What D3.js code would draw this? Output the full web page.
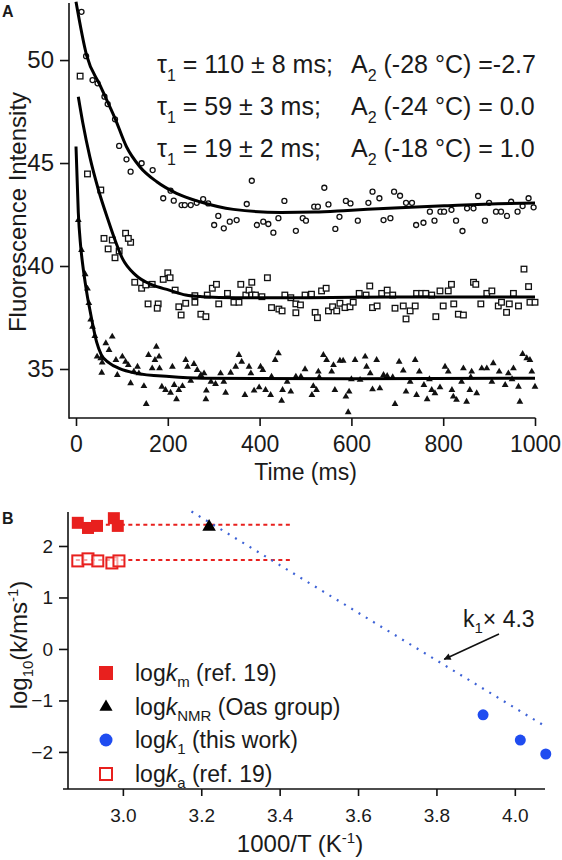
<!DOCTYPE html>
<html><head><meta charset="utf-8">
<script src="https://cdn.jsdelivr.net/npm/d3@7/dist/d3.min.js"></script>
<style>body{margin:0;background:#fff}svg{display:block}</style>
</head><body>
<svg id="c" width="562" height="860"></svg>
<script>
// ---------------- DATA ----------------
// Panel A: time (ms), fluorescence intensity
const timeTicks = [0, 200, 400, 600, 800, 1000];
const intensityTicks = [35, 40, 45, 50];

const circlePts = [[12,52.34],[22,50.19],[36,49.03],[47,48.87],[62,48.22],[69,47.86],[85,47.12],[94,45.83],[110,45.18],[119,44.58],[143,44.99],[167,44.66],[190,43.29],[206,43.66],[213,43.17],[230,42.96],[237,42.96],[250,42.96],[263,43.07],[277,43.25],[288,43.04],[301,41.99],[310,42.43],[322,41.83],[335,42.15],[350,42.23],[372,43.01],[383,44.14],[394,41.99],[408,42.15],[419,42.04],[430,41.62],[441,42.32],[454,43.16],[479,41.71],[494,42.32],[501,42.2],[519,42.88],[527,42.88],[541,43.8],[550,42.99],[565,41.8],[574,42.39],[588,43.16],[598,43.04],[614,42.2],[637,43.07],[646,43.61],[661,43.29],[670,42.23],[685,42.32],[693,43.61],[706,43.41],[719,43.07],[732,43.07],[741,41.99],[757,42.1],[771,42.64],[781,42.2],[794,42.64],[802,42.64],[818,42.73],[828,42.2],[842,41.7],[852,42.8],[866,42.8],[876,43.4],[891,42.2],[900,43.07],[915,42.64],[926,42.64],[939,42.43],[948,43.12],[962,42.64],[973,42.91],[986,43.29],[997,42.85]];
const circleFit = [[0,52.83],[23,50.24],[52,48.79],[85,47.17],[110,45.79],[139,44.82],[176,44.09],[219,43.53],[270,43.12],[343,42.75],[447,42.6],[520,42.62],[592,42.7],[693,42.82],[810,42.93],[919,43.02],[1000,43.06]];

const squarePts = [[9,49.22],[25,44.47],[54,43.69],[61,41.34],[79,41.26],[70,40.83],[94,40.73],[85,40.4],[108,41.59],[119,41.15],[114,41.34],[128,39.21],[143,38.92],[152,39.08],[166,39.11],[157,38.16],[179,38.16],[177,37.95],[190,39.35],[200,39.67],[205,39.43],[216,38.83],[224,38.02],[229,37.62],[239,38.19],[259,38.56],[259,38.24],[272,37.66],[283,37.54],[286,38.59],[297,38.92],[306,39.11],[311,38.16],[330,38.67],[344,38.24],[355,38.24],[359,39.11],[370,38.59],[377,38.83],[383,39.21],[383,38.59],[391,38.59],[405,38.51],[417,39.43],[426,37.98],[442,37.91],[449,37.82],[455,38.59],[468,38.46],[479,37.73],[479,38.16],[489,38.11],[499,38.59],[513,38.63],[521,37.75],[526,37.49],[535,38.79],[545,38.92],[550,37.82],[559,38.02],[568,37.82],[575,38.19],[586,37.98],[597,38.02],[604,38.24],[617,38.67],[632,38.59],[640,39.03],[646,37.98],[656,38.06],[666,38.67],[678,38.83],[690,38.59],[695,37.95],[713,38.06],[719,37.43],[728,37.82],[739,38.06],[742,38.67],[753,38.67],[762,38.67],[775,38.59],[784,37.54],[793,38.79],[800,38.06],[811,38.79],[818,39.11],[823,38.16],[833,37.66],[844,37.62],[866,39.21],[871,39.11],[882,38.16],[895,38.67],[906,38.79],[920,38.06],[927,38.24],[938,37.75],[944,38.16],[953,38.67],[964,38.06],[976,39.85],[986,39.0],[989,38.24],[1000,38.24]];
const squareFit = [[5,48.22],[15,46.93],[30,45.31],[49,43.69],[70,42.23],[85,41.26],[101,40.37],[130,39.56],[166,39.08],[203,38.83],[239,38.59],[275,38.51],[348,38.46],[508,38.46],[700,38.5],[1000,38.5]];

const trianglePts = [[5,42.23],[12,40.78],[20,39.6],[25,38.9],[28,38.2],[32,37.4],[36,37.05],[41,36.6],[46,35.6],[54,35.52],[57,35.31],[56,34.82],[65,36.25],[72,35.92],[79,36.57],[87,35.44],[90,34.71],[101,35.6],[108,35.35],[114,35.19],[119,34.31],[126,34.87],[134,35.11],[137,34.79],[148,34.17],[153,33.3],[158,35.68],[166,35.03],[172,35.44],[175,36.08],[181,35.6],[182,35.03],[187,34.14],[195,33.98],[206,33.85],[210,35.11],[214,34.22],[219,33.53],[224,33.98],[232,34.17],[239,35.44],[243,35.11],[250,34.43],[257,35.24],[264,34.95],[272,34.71],[279,34.79],[283,33.53],[284,33.95],[294,34.38],[304,34.27],[315,34.79],[322,34.38],[326,33.85],[337,34.82],[348,35.11],[355,35.68],[361,35.35],[368,33.74],[377,35.11],[381,34.79],[388,33.95],[399,34.11],[402,35.11],[407,34.95],[413,33.98],[424,33.74],[426,34.63],[434,35.44],[441,35.76],[448,33.46],[450,33.98],[460,34.38],[468,33.9],[479,34.63],[490,34.63],[499,34.99],[514,33.74],[517,34.17],[524,33.98],[528,34.87],[539,35.68],[546,35.44],[557,34.87],[561,35.19],[564,33.98],[575,35.4],[582,35.4],[588,33.66],[595,33.9],[593,32.9],[608,35.44],[619,34.47],[630,35.6],[633,35.11],[641,34.79],[646,34.01],[655,35.44],[662,34.06],[670,34.71],[678,34.66],[695,33.3],[704,35.35],[713,34.92],[719,33.9],[728,34.38],[739,35.44],[742,33.74],[748,34.87],[758,34.22],[765,33.53],[775,33.98],[782,33.82],[793,34.11],[804,35.11],[811,34.87],[819,33.98],[822,33.66],[829,33.5],[840,34.38],[844,35.03],[851,33.41],[858,33.98],[862,34.87],[873,33.82],[884,35.03],[895,35.03],[906,34.38],[909,35.28],[922,34.87],[935,34.22],[942,34.79],[953,35.03],[964,34.14],[967,33.41],[973,35.73],[982,35.52],[989,35.44],[993,34.87],[1000,34.14],[530,34.6],[600,34.5],[690,34.6],[770,34.5],[860,34.6],[950,34.5]];
const triangleFit = [[0,45.8],[5,42.6],[10,41.0],[15,40.0],[20,39.2],[25,38.5],[30,37.9],[37,37.1],[45,36.3],[55,35.7],[72,35.3],[94,35.03],[130,34.8],[203,34.63],[275,34.55],[600,34.52],[1000,34.55]];

const fitLabels = [
  {tau: "110 ± 8 ms;", temp: "-28 °C", a2: "=-2.7"},
  {tau: "59 ± 3 ms;",  temp: "-24 °C", a2: "= 0.0"},
  {tau: "19 ± 2 ms;",  temp: "-18 °C", a2: "= 1.0"}
];

// Panel B: 1000/T (1/K), log10(k / ms^-1)
const invTTicks = [3.0, 3.2, 3.4, 3.6, 3.8, 4.0];
const logkTicks = [-2, -1, 0, 1, 2];
const logKm = [[2.885,2.45],[2.911,2.35],[2.934,2.39],[2.977,2.54],[2.987,2.39]];
const logKa = [[2.885,1.71],[2.911,1.75],[2.936,1.71],[2.972,1.67],[2.990,1.71]];
const logKnmr = [[3.22,2.37]];
const logK1 = [[3.919,-1.28],[4.014,-1.77],[4.079,-2.04]];
const kmLevelLine = [[2.88,2.41],[3.43,2.41]];
const kaLevelLine = [[2.88,1.73],[3.43,1.73]];
const k1x43Line = [[3.175,2.67],[4.077,-1.50]];
const arrowTip = [3.82,-0.2];

// ---------------- DRAW ----------------
const FONT = '"Liberation Sans", Arial, Helvetica, sans-serif';
const TXT = "#1a1a1a";
const svg = d3.select("#c").attr("font-family", FONT);

function styleAxis(g, fs) {
  g.select(".domain").remove();
  g.selectAll(".tick line").attr("stroke", "#111").attr("stroke-width", 1.6);
  g.selectAll(".tick text").attr("font-size", fs).attr("fill", TXT).attr("font-family", FONT);
}

// ===== Panel A =====
const xA = d3.scaleLinear().domain([0, 1000]).range([76, 535]);
const yA = d3.scaleLinear().domain([32.62, 52.77]).range([418, 3]);

const axAx = svg.append("g").attr("transform", "translate(0,418)")
  .call(d3.axisBottom(xA).tickValues(timeTicks).tickSize(8).tickPadding(10).tickFormat(d3.format("d")));
styleAxis(axAx, 23);
const axAy = svg.append("g").attr("transform", "translate(69,0)")
  .call(d3.axisLeft(yA).tickValues(intensityTicks).tickSize(9).tickPadding(6));
styleAxis(axAy, 24);
svg.append("line").attr("x1", 69).attr("x2", 535.5).attr("y1", 418).attr("y2", 418).attr("stroke", "#111").attr("stroke-width", 1.6);
svg.append("line").attr("x1", 69).attr("x2", 69).attr("y1", 3).attr("y2", 418.8).attr("stroke", "#111").attr("stroke-width", 1.6);

// markers
svg.append("g").selectAll("circle").data(circlePts).join("circle")
  .attr("cx", d => xA(d[0])).attr("cy", d => yA(d[1])).attr("r", 2.5)
  .attr("fill", "#fff").attr("stroke", "#111").attr("stroke-width", 1.3);
svg.append("g").selectAll("rect").data(squarePts).join("rect")
  .attr("x", d => xA(d[0]) - 2.8).attr("y", d => yA(d[1]) - 2.8).attr("width", 5.6).attr("height", 5.6)
  .attr("fill", "#fff").attr("stroke", "#111").attr("stroke-width", 1.3);
const tri = d3.symbol().type(d3.symbolTriangle).size(20);
svg.append("g").selectAll("path").data(trianglePts).join("path")
  .attr("transform", d => `translate(${xA(d[0])},${yA(d[1])})`).attr("d", tri).attr("fill", "#111");

// fits
const lineA = d3.line().x(d => xA(d[0])).y(d => yA(d[1])).curve(d3.curveMonotoneX);
[circleFit, squareFit, triangleFit].forEach(f => {
  svg.append("path").attr("d", lineA(f)).attr("fill", "none").attr("stroke", "#000").attr("stroke-width", 3);
});

// labels A
svg.append("text").attr("x", 2).attr("y", 17).attr("font-size", 16).attr("font-weight", "bold").attr("fill", TXT).text("A");
svg.append("text").attr("x", xA(500)).attr("y", 480).attr("text-anchor", "middle").attr("font-size", 23).attr("fill", TXT).text("Time (ms)");
svg.append("text").attr("transform", "translate(26,212) rotate(-90)").attr("text-anchor", "middle")
  .attr("font-size", 24).attr("fill", TXT).text("Fluorescence Intensity");

const rowBase = [73, 115, 157];
fitLabels.forEach((r, i) => {
  const t = svg.append("text").attr("x", 157).attr("y", rowBase[i]).attr("font-size", 25).attr("fill", TXT);
  t.append("tspan").text("τ");
  t.append("tspan").attr("font-size", 16).attr("dy", 8).text("1");
  t.append("tspan").attr("dy", -8).text(" = " + r.tau);
  const u = svg.append("text").attr("x", 351).attr("y", rowBase[i]).attr("font-size", 25).attr("fill", TXT);
  u.append("tspan").text("A");
  u.append("tspan").attr("font-size", 16).attr("dy", 8).text("2");
  u.append("tspan").attr("dy", -8).text(" (" + r.temp + ") " + r.a2);
});

// ===== Panel B =====
const xB = d3.scaleLinear().domain([2.86, 4.077]).range([68, 545]);
const yB = d3.scaleLinear().domain([-2.72, 2.66]).range([789, 512]);

const axBx = svg.append("g").attr("transform", "translate(0,789)")
  .call(d3.axisBottom(xB).tickValues(invTTicks).tickSize(7).tickPadding(13).tickFormat(d3.format(".1f")));
styleAxis(axBx, 19);
const axBy = svg.append("g").attr("transform", "translate(68,0)")
  .call(d3.axisLeft(yB).tickValues(logkTicks).tickSize(9).tickPadding(6).tickFormat(d3.format("d")));
styleAxis(axBy, 19);
svg.append("line").attr("x1", 63).attr("x2", 545).attr("y1", 789).attr("y2", 789).attr("stroke", "#111").attr("stroke-width", 1.6);
svg.append("line").attr("x1", 68).attr("x2", 68).attr("y1", 512).attr("y2", 789).attr("stroke", "#111").attr("stroke-width", 1.6);

const RED = "#e8201e", BLUE = "#1f4cf0", LBLUE = "#3d62d6";
const lineB = d3.line().x(d => xB(d[0])).y(d => yB(d[1]));
[kmLevelLine, kaLevelLine].forEach(l => svg.append("path").attr("d", lineB(l))
  .attr("stroke", RED).attr("stroke-width", 2).attr("stroke-dasharray", "4,3.5").attr("fill", "none"));
svg.append("path").attr("d", lineB(k1x43Line)).attr("stroke", LBLUE).attr("stroke-width", 2.2)
  .attr("stroke-dasharray", "2,6.5").attr("fill", "none");

svg.append("g").selectAll("rect").data(logKm).join("rect")
  .attr("x", d => xB(d[0]) - 6).attr("y", d => yB(d[1]) - 6).attr("width", 12).attr("height", 12).attr("fill", RED);
svg.append("g").selectAll("rect").data(logKa).join("rect")
  .attr("x", d => xB(d[0]) - 5.5).attr("y", d => yB(d[1]) - 5.5).attr("width", 11).attr("height", 11)
  .attr("fill", "#fff").attr("fill-opacity", 0.6).attr("stroke", RED).attr("stroke-width", 2);
const triB = d3.symbol().type(d3.symbolTriangle).size(80);
svg.append("g").selectAll("path").data(logKnmr).join("path")
  .attr("transform", d => `translate(${xB(d[0])},${yB(d[1])})`).attr("d", triB).attr("fill", "#000");
svg.append("g").selectAll("circle").data(logK1).join("circle")
  .attr("cx", d => xB(d[0])).attr("cy", d => yB(d[1])).attr("r", 5.5).attr("fill", BLUE);

// annotation k1 x 4.3
const ann = svg.append("text").attr("x", 463).attr("y", 627).attr("font-size", 23).attr("fill", TXT);
ann.append("tspan").text("k");
ann.append("tspan").attr("font-size", 15).attr("dy", 6).text("1");
ann.append("tspan").attr("dy", -6).text("× 4.3");
svg.append("defs").append("marker").attr("id", "ah").attr("viewBox", "0 0 10 10").attr("refX", 9).attr("refY", 5)
  .attr("markerWidth", 9).attr("markerHeight", 7).attr("markerUnits", "userSpaceOnUse").attr("orient", "auto")
  .append("path").attr("d", "M0,0 L10,5 L0,10 Z").attr("fill", "#111");
svg.append("line").attr("x1", 499).attr("y1", 634).attr("x2", xB(arrowTip[0])).attr("y2", yB(arrowTip[1]))
  .attr("stroke", "#111").attr("stroke-width", 1.6).attr("marker-end", "url(#ah)");

// labels B
svg.append("text").attr("x", 2).attr("y", 524).attr("font-size", 16).attr("font-weight", "bold").attr("fill", TXT).text("B");
const xl = svg.append("text").attr("x", 300).attr("y", 852).attr("text-anchor", "middle").attr("font-size", 24).attr("fill", TXT);
xl.append("tspan").text("1000/T (K");
xl.append("tspan").attr("font-size", 15).attr("dy", -9).text("-1");
xl.append("tspan").attr("dy", 9).text(")");
const yl = svg.append("text").attr("transform", "translate(27,645) rotate(-90)").attr("text-anchor", "middle").attr("font-size", 24).attr("fill", TXT);
yl.append("tspan").text("log");
yl.append("tspan").attr("font-size", 15).attr("dy", 6).text("10");
yl.append("tspan").attr("dy", -6).text("(k/ms");
yl.append("tspan").attr("font-size", 15).attr("dy", -9).text("-1");
yl.append("tspan").attr("dy", 9).text(")");

// legend
const legend = [
  {sym: "fsq", sub: "m", rest: " (ref. 19)"},
  {sym: "tri", sub: "NMR", rest: " (Oas group)"},
  {sym: "cir", sub: "1", rest: " (this work)"},
  {sym: "osq", sub: "a", rest: " (ref. 19)"}
];
const legY = [673, 707, 740, 774];
legend.forEach((e, i) => {
  const y = legY[i], sx = 106;
  if (e.sym === "fsq") svg.append("rect").attr("x", sx - 7).attr("y", y - 7).attr("width", 14).attr("height", 14).attr("fill", RED);
  if (e.sym === "osq") svg.append("rect").attr("x", sx - 6).attr("y", y - 6).attr("width", 12).attr("height", 12).attr("fill", "#fff").attr("stroke", RED).attr("stroke-width", 2);
  if (e.sym === "tri") svg.append("path").attr("transform", `translate(${sx},${y})`).attr("d", d3.symbol().type(d3.symbolTriangle).size(75)()).attr("fill", "#000");
  if (e.sym === "cir") svg.append("circle").attr("cx", sx).attr("cy", y).attr("r", 6.5).attr("fill", BLUE);
  const t = svg.append("text").attr("x", 135).attr("y", y + 8).attr("font-size", 23).attr("fill", TXT);
  t.append("tspan").text("log");
  t.append("tspan").attr("font-style", "italic").text("k");
  t.append("tspan").attr("font-size", 15).attr("dy", 6).text(e.sub);
  t.append("tspan").attr("dy", -6).text(e.rest);
});
</script>
</body></html>
